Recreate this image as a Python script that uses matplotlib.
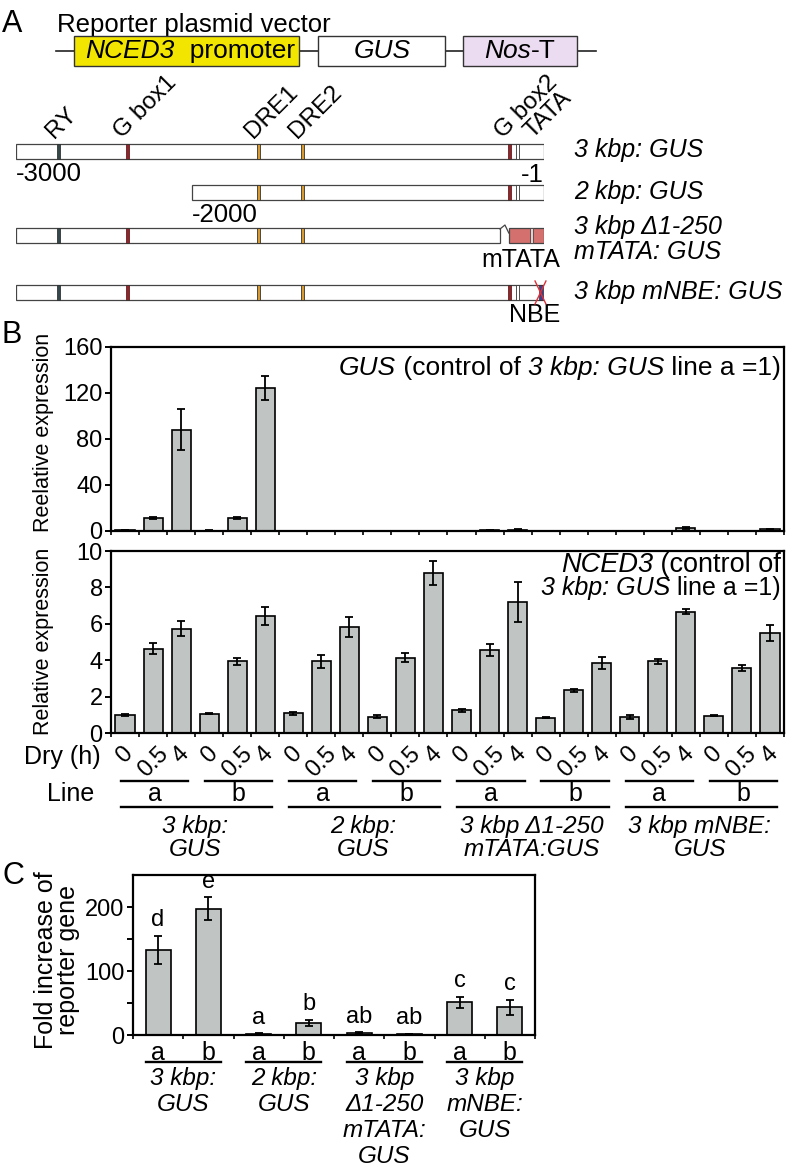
import numpy as np
import matplotlib
matplotlib.use('Agg')
import matplotlib.pyplot as plt
from matplotlib.patches import Rectangle
from matplotlib.transforms import blended_transform_factory, offset_copy

plt.rcParams['font.family'] = ['Liberation Sans', 'DejaVu Sans']
plt.rcParams['font.size'] = 18

# ---- panel A: promoter elements (position in bp upstream of start) ----
elem_names = ['RY', 'G box1', 'DRE1', 'DRE2', 'G box2', 'TATA']
elem_pos = [-2760, -2365, -1620, -1370, -195, -150]
elem_colors = ['#34484b', '#b3161c', '#d89a2e', '#d89a2e', '#b3161c', 'white']
construct_names = [['3 kbp: GUS'], ['2 kbp: GUS'], ['3 kbp Δ1-250', 'mTATA: GUS'],
                   ['3 kbp mNBE: GUS']]
construct_start = [-3000, -2000, -3000, -3000]
deletion_end = -250
nbe_pos = -17

# ---- panel B ----
time_labels = ['0', '0.5', '4']
line_labels = ['a', 'b']
group_labels_b = [['3 kbp:', 'GUS'], ['2 kbp:', 'GUS'], ['3 kbp Δ1-250', 'mTATA:GUS'],
                  ['3 kbp mNBE:', 'GUS']]
gus_mean = [1.0, 11, 88, 0.4, 11, 124, 0.3, 0.3, 0.3, 0.2, 0.3, 0.3,
            0.3, 0.6, 1.0, 0.2, 0.3, 0.3, 0.3, 0.4, 2.6, 0.2, 0.3, 1.5]
gus_err = [0.1, 1.0, 18, 0.1, 0.8, 10.5, 0, 0, 0, 0, 0, 0,
           0, 0.2, 0.4, 0, 0, 0, 0, 0, 0.5, 0, 0, 0.5]
nced3_mean = [1.0, 4.62, 5.73, 1.07, 3.93, 6.45, 1.08, 3.93, 5.82, 0.9, 4.13, 8.8,
              1.24, 4.58, 7.18, 0.85, 2.36, 3.85, 0.88, 3.93, 6.67, 0.96, 3.56, 5.5]
nced3_err = [0.05, 0.3, 0.4, 0.03, 0.18, 0.5, 0.07, 0.35, 0.55, 0.07, 0.25, 0.65,
             0.07, 0.33, 1.1, 0.05, 0.08, 0.35, 0.1, 0.15, 0.15, 0.05, 0.17, 0.45]

# ---- panel C ----
fold_mean = [133, 197, 2, 19, 3, 1.5, 51, 43]
fold_err = [22, 18, 1, 5, 1, 0.5, 9, 12]
fold_letters = ['d', 'e', 'a', 'b', 'ab', 'ab', 'c', 'c']
group_labels_c = [['3 kbp:', 'GUS'], ['2 kbp:', 'GUS'], ['3 kbp', 'Δ1-250', 'mTATA:', 'GUS'],
                  ['3 kbp', 'mNBE:', 'GUS']]

bar_gray = '#c0c5c4'
W, H = 793, 1167
fig = plt.figure(figsize=(W / 100, H / 100), dpi=100)


def box(left, top, right, bottom):
    return [left / W, 1 - bottom / H, (right - left) / W, (bottom - top) / H]


# overlay in pixel coordinates (origin top-left)
ov = fig.add_axes([0, 0, 1, 1])
ov.set_xlim(0, W)
ov.set_ylim(H, 0)
ov.axis('off')
ov.set_zorder(10)
renderer = fig.canvas.get_renderer()


def adv(s, **kw):
    t1 = ov.text(0, 0, '|' + s + '|', **kw)
    t2 = ov.text(0, 0, '||', **kw)
    w = t1.get_window_extent(renderer).width - t2.get_window_extent(renderer).width
    t1.remove()
    t2.remove()
    return w


def rich(x, y, parts, ha='left', size=18):
    widths = [adv(s, style=st, size=size) for s, st in parts]
    total = sum(widths)
    x0 = {'left': x, 'center': x - total / 2, 'right': x - total}[ha]
    for (s, st), w in zip(parts, widths):
        ov.text(x0, y, s.rstrip(), style=st, size=size, ha='left', va='center')
        x0 += w


# ================= panel A =================
ov.text(2, 24, 'A', size=22, va='center')
ov.text(57, 32, 'Reporter plasmid vector', size=18.5, va='baseline')
ov.plot([56, 596], [51, 51], color='#222222', lw=1.2)
for (l, r, fc) in [(74, 299, '#f2e600'), (318, 445, 'white'), (463, 577, '#ebdcf2')]:
    ov.add_patch(Rectangle((l, 36), r - l, 30, fc=fc, ec='#333333', lw=1.0, zorder=3))
rich(190, 51, [('NCED3', 'italic'), ('  promoter', 'normal')], ha='center', size=19)
ov.text(382, 51, 'GUS', style='italic', size=19, ha='center', va='center', zorder=4)
rich(520, 51, [('Nos', 'italic'), ('-T', 'normal')], ha='center', size=19)

axc = fig.add_axes([16 / W, 0, 528 / W, 1])
axc.set_xlim(-3000, 0)
axc.set_ylim(H, 0)
axc.axis('off')
row_top = [144, 185, 228, 285]
bh = 15
for i, start in enumerate(construct_start):
    top = row_top[i]
    end = deletion_end if i == 2 else 0
    axc.add_patch(Rectangle((start, top), end - start, bh, fc='white', ec='#444444', lw=0.9))
    for p, c in zip(elem_pos, elem_colors):
        if p < start or p > end:
            continue
        w = 18 if c == 'white' else 16
        axc.add_patch(Rectangle((p - w / 2, top), w, bh, fc=c, ec='#333333', lw=0.6, zorder=3))
    lines = construct_names[i]
    if len(lines) == 1:
        axc.text(170, top + bh / 2 - 1, lines[0], style='italic', va='center', clip_on=False)
    else:
        axc.text(170, top - 1, lines[0], style='italic', va='center', clip_on=False)
        axc.text(170, top + 24, lines[1], style='italic', va='center', clip_on=False)

# deletion with mutated TATA
top = row_top[2]
axc.plot([-250, -222, -200], [top + 1, top - 3, top + 5], color='#444444', lw=0.9)
axc.add_patch(Rectangle((-200, top), 200, bh, fc='#d4706e', ec='#444444', lw=0.9))
axc.add_patch(Rectangle((-80, top), 18, bh, fc='#eecaca', ec='#444444', lw=0.6, zorder=3))
axc.text(91, 260, 'mTATA', ha='right', va='center', clip_on=False)
# mutated NBE
top = row_top[3]
axc.add_patch(Rectangle((nbe_pos - 11, top), 22, bh, fc='#3c3f8c', ec='#333333', lw=0.5, zorder=3))
axc.plot([nbe_pos - 34, nbe_pos + 28], [top - 4, top + bh + 4], color='#e0303a', lw=1.0, zorder=4, clip_on=False)
axc.plot([nbe_pos + 28, nbe_pos - 34], [top - 4, top + bh + 4], color='#e0303a', lw=1.0, zorder=4, clip_on=False)
axc.text(-51, 315, 'NBE', ha='center', va='center', clip_on=False)

axc.text(-3000, 174, '-3000', ha='left', va='center', size=18.5)
axc.text(0, 175, '-1', ha='right', va='center', size=18.5)
axc.text(-2000, 215, '-2000', ha='left', va='center', size=18.5)
label_dx = [-4, -6, -6, -6, -7, 15]   # pixel shift of the slanted labels
for name, p, dx in zip(elem_names, elem_pos, label_dx):
    tr = offset_copy(axc.transData, fig=fig, x=dx, y=0, units='dots')
    axc.text(p, 139, name, rotation=45, rotation_mode='anchor', ha='left', va='baseline',
             size=17.5, transform=tr, clip_on=False)


def style_axes(ax):
    for s in ax.spines.values():
        s.set_linewidth(1.6)
    ax.tick_params(axis='y', direction='out', length=4, width=1.4, labelsize=17, pad=2)
    ax.tick_params(axis='x', which='minor', direction='out', length=3, width=1.2)
    ax.tick_params(axis='x', which='major', length=0)


# ================= panel B =================
ov.text(2, 335, 'B', size=22, va='center')
x = np.arange(24)
bar_kw = dict(color=bar_gray, edgecolor='black', linewidth=1.2, capsize=3,
              error_kw=dict(elinewidth=1.3, capthick=1.3, ecolor='black'))

axB1 = fig.add_axes(box(111, 347, 784, 531))
axB1.bar(x, gus_mean, width=0.68, yerr=gus_err, **bar_kw)
axB1.set_xlim(-0.5, 23.5)
axB1.set_ylim(0, 160)
axB1.set_yticks(np.arange(0, 161, 40))
axB1.set_xticks([])
axB1.set_xticks(np.arange(-0.5, 24, 1), minor=True)
style_axes(axB1)
rich(781, 368, [('GUS', 'italic'), (' (control of ', 'normal'), ('3 kbp: GUS', 'italic'),
                (' line a =1)', 'normal')], ha='right', size=19)
ov.text(44, 432, 'Reelative expression', rotation=90, ha='center', va='center', size=15.5)

axB2 = fig.add_axes(box(111, 551, 784, 733))
axB2.bar(x, nced3_mean, width=0.68, yerr=nced3_err, **bar_kw)
axB2.set_xlim(-0.5, 23.5)
axB2.set_ylim(0, 10)
axB2.set_yticks(np.arange(0, 11, 2))
axB2.set_xticks(x)
axB2.set_xticklabels(time_labels * 8, rotation=45, ha='center', fontsize=17)
axB2.set_xticks(np.arange(-0.5, 24, 1), minor=True)
style_axes(axB2)
axB2.tick_params(axis='x', which='major', pad=7)
rich(781, 565, [('NCED3', 'italic'), (' (control of', 'normal')], ha='right', size=19.5)
rich(781, 588, [('3 kbp: GUS', 'italic'), (' line a =1)', 'normal')], ha='right')
ov.text(44, 641, 'Relative expression', rotation=90, ha='center', va='center', size=15.5)

ov.text(101, 757, 'Dry (h)', ha='right', va='center')
ov.text(94, 794, 'Line', ha='right', va='center')
trB = blended_transform_factory(axB2.transData, ov.transData)
for k in range(8):
    c = 3 * k + 1.05
    ov.plot([c - 1.2, c + 1.2], [781, 781], color='black', lw=1.7, transform=trB, clip_on=False)
    ov.text(c, 794, line_labels[k % 2], ha='center', va='center', transform=trB)
for g in range(4):
    ov.plot([6 * g - 0.15, 6 * g + 5.25], [807, 807], color='black', lw=1.7, transform=trB, clip_on=False)
    for j, s in enumerate(group_labels_b[g]):
        ov.text(6 * g + 2.5, 827 + 22 * j, s, style='italic', ha='center', va='center',
                size=17.5, transform=trB)

# ================= panel C =================
ov.text(2, 876, 'C', size=22, va='center')
xc = np.arange(8)
axC = fig.add_axes(box(133, 875, 535, 1035))
axC.bar(xc, fold_mean, width=0.5, yerr=fold_err, **bar_kw)
axC.set_xlim(-0.5, 7.5)
axC.set_ylim(0, 250)
axC.set_yticks([0, 50, 100, 150, 200])
axC.set_yticklabels(['0', '', '100', '', '200'])
axC.set_xticks(xc)
axC.set_xticklabels(line_labels * 4, fontsize=18)
axC.set_xticks(np.arange(-0.5, 8, 1), minor=True)
style_axes(axC)
axC.tick_params(axis='x', which='major', pad=4)
for i, (m, e, s) in enumerate(zip(fold_mean, fold_err, fold_letters)):
    axC.text(i, m + e + 7, s, ha='center', va='bottom', size=17)
ov.text(57, 960, 'Fold increase of\nreporter gene', rotation=90, ha='center', va='center',
        size=18, linespacing=0.85)
trC = blended_transform_factory(axC.transData, ov.transData)
for g in range(4):
    ov.plot([2 * g - 0.25, 2 * g + 1.25], [1062, 1062], color='black', lw=1.7, transform=trC, clip_on=False)
    for j, s in enumerate(group_labels_c[g]):
        ov.text(2 * g + 0.5, 1079 + 25.7 * j, s, style='italic', ha='center', va='center',
                size=17.5, transform=trC)

fig.savefig('out.png', dpi=100)
